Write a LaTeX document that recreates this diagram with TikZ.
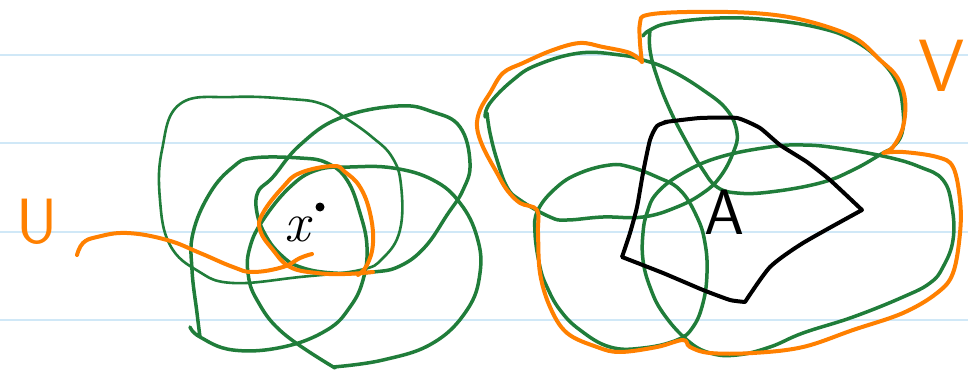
\documentclass[tikz,border=0pt]{standalone}
\definecolor{pgreen}{RGB}{32,125,58}
\definecolor{porange}{RGB}{255,128,0}
\definecolor{ruleblue}{RGB}{208,232,247}
\begin{document}
\begin{tikzpicture}[x=1pt,y=-1pt,line cap=round,line join=round,
  gcurve/.style={draw=pgreen,line width=3.5pt},
  gthin/.style={draw=pgreen,line width=2.6pt},
  ocurve/.style={draw=porange,line width=4pt},
  bcurve/.style={draw=black,line width=4pt},
  ruleline/.style={draw=ruleblue,line width=1.4pt},
  hand/.style={font=\sffamily\fontsize{64}{64}\selectfont,inner sep=0pt}]
\fill[white] (0,0) rectangle (968,374);
\useasboundingbox (0,0) rectangle (968,374);
% ruled paper
\foreach \yy in {55,143,232,320} \draw[ruleline] (0,\yy) -- (968,\yy);

% ---------- left group ----------
\draw[gthin] plot[smooth cycle,tension=0.7] coordinates {(180,104) (233,97) (290,99) (322,104) (347,119) (372,137) (392,157) (401,185) (400,230) (383,258) (360,270) (300,277) (233,283) (198,271) (170,245) (160,200) (162,150)};
\draw[gcurve] plot[smooth cycle,tension=0.7] coordinates {(398,106) (433,112) (460,127) (470,163) (463,190) (447,215) (425,247) (400,266) (373,272) (333,273) (300,267) (281,255) (266,236) (257,213) (258,192) (273,177) (300,145) (340,118)};
\draw[gcurve] plot[smooth,tension=0.7] coordinates {(190,327) (200,337) (233,350) (283,347) (327,330) (350,307) (363,280) (367,247) (360,213) (347,180) (327,163) (300,158) (253,158) (233,167) (210,193) (193,233) (192,270) (197,313) (200,337)};
\draw[gcurve] plot[smooth,tension=0.7] coordinates {(333,367) (383,360) (433,343) (467,310) (480,273) (477,237) (460,203) (433,180) (393,168) (350,167) (317,170) (290,187) (263,220) (250,247) (248,273) (257,300) (283,333) (335,368)};
\draw[ocurve] plot[smooth,tension=0.7] coordinates {(373,272) (345,274) (317,273) (290,267) (273,250) (260,230) (263,213) (283,187) (300,173) (333,166) (345,172) (360,187) (370,213) (373,243) (367,265) (358,275)};
\draw[ocurve] plot[smooth,tension=0.7] coordinates {(77,255) (83,243) (97,237) (127,233) (167,240) (200,253) (233,267) (253,272) (283,267) (300,258) (312,254)};
\node[hand,text=porange] (U) at (37,222) {U};
\node[inner sep=0pt,font=\rmfamily\itshape\fontsize{56}{56}\selectfont] (x) at (297,229) {x};
\fill (320,207) circle (4.5pt);
\coordinate (xdot) at (320,207);

% ---------- right group ----------
\draw[gcurve] plot[smooth,tension=0.7] coordinates {(485,117) (490,103) (513,80) (537,65) (580,53) (620,55) (643,60) (670,70) (703,90) (727,110) (737,133) (733,153) (720,177) (703,193) (677,207) (643,217) (603,217) (567,220) (550,217) (520,200) (507,187) (497,160) (490,133) (487,113)};
\draw[gcurve] plot[smooth,tension=0.7] coordinates {(643,36) (650,30) (670,23) (720,18) (770,20) (820,28) (853,40) (880,60) (897,83) (903,110) (902,133) (893,147) (883,153) (853,170) (820,183) (770,192) (737,193) (717,187) (703,170) (687,143) (670,110) (657,77) (650,50) (650,30)};
\draw[gcurve] plot[smooth cycle,tension=0.7] coordinates {(538,210) (557,187) (580,173) (610,165) (630,167) (657,177) (680,190) (697,217) (705,243) (707,273) (703,303) (693,327) (677,340) (643,348) (610,347) (580,330) (560,310) (547,287) (540,267) (535,233)};
\draw[gcurve] plot[smooth cycle,tension=0.7] coordinates {(647,213) (657,193) (683,173) (720,157) (770,147) (803,145) (837,148) (887,157) (920,167) (943,180) (952,207) (953,240) (943,267) (930,283) (903,297) (853,317) (803,333) (770,347) (737,355) (710,353) (687,340) (663,313) (650,287) (643,260) (643,233)};
% set A
\draw[bcurve] plot[smooth,tension=0.3] coordinates {(665,122) (700,118) (737,118) (760,128) (780,145) (807,162) (830,180) (862,210)}
  -- plot[smooth,tension=0.4] coordinates {(862,210) (803,243) (770,267) (745,302)}
  -- plot[smooth,tension=0.3] coordinates {(745,302) (730,300) (703,290) (663,273) (622,257)}
  -- plot[smooth,tension=0.4] coordinates {(622,257) (630,233) (637,207) (643,173) (650,140) (657,126) (667,122)};
\node[hand,text=black] (A) at (724,212) {A};
% open set V
\draw[ocurve] plot[smooth,tension=0.6] coordinates {(642,62) (630,53) (603,47) (580,43) (553,50) (523,63) (503,73) (490,93) (480,110) (477,127) (483,147) (497,173) (507,190) (520,203) (537,210) (538,233) (540,273) (550,307) (567,333) (597,347) (620,352) (657,347) (683,340) (690,347) (710,353) (753,353) (803,347) (853,330) (903,313) (937,293) (953,273) (960,233) (960,200) (953,167) (937,157) (903,152) (883,153)}
  -- plot[smooth,tension=0.6] coordinates {(883,153) (893,147) (903,127) (905,100) (897,77) (880,60) (853,37) (803,20) (753,13) (687,12) (647,15) (640,23) (640,43) (642,62)};
\node[hand,text=porange,font=\sffamily\fontsize{74}{74}\selectfont] (V) at (942,66) {V};
\end{tikzpicture}
\end{document}
